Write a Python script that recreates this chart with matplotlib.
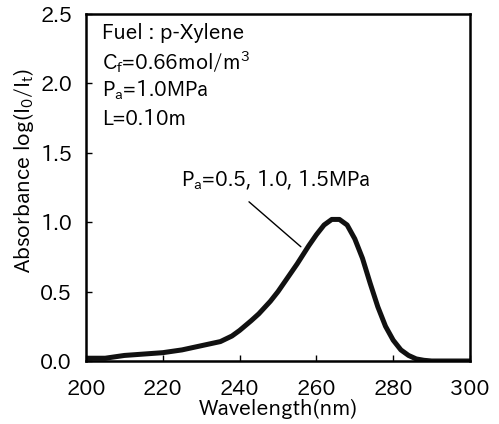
import matplotlib
matplotlib.use("Agg")
import matplotlib.pyplot as plt

FONT = 'IPAPGothic'
plt.rcParams['font.family'] = [FONT, 'DejaVu Sans']
plt.rcParams['mathtext.fontset'] = 'custom'
plt.rcParams['mathtext.rm'] = FONT
plt.rcParams['mathtext.it'] = FONT
plt.rcParams['mathtext.bf'] = FONT

wavelength = [200, 205, 210, 215, 220, 225, 230, 235, 238, 240, 243, 245, 248, 250,
              252, 255, 258, 260, 262, 264, 266, 268, 270, 272, 274, 276, 278,
              280, 282, 284, 286, 288, 290, 295, 300]
absorbance = [0.02, 0.02, 0.04, 0.05, 0.06, 0.08, 0.11, 0.14, 0.18, 0.22, 0.29, 0.34, 0.43, 0.50,
              0.58, 0.70, 0.83, 0.91, 0.98, 1.02, 1.02, 0.98, 0.88, 0.74, 0.56, 0.39, 0.25,
              0.15, 0.08, 0.04, 0.015, 0.005, 0.0, 0.0, 0.0]

xticks = [200, 220, 240, 260, 280, 300]
yticks = [0.0, 0.5, 1.0, 1.5, 2.0, 2.5]

fig = plt.figure(figsize=(4.99, 4.24), dpi=100)
ax = fig.add_axes([86/499, 63/424, 384/499, 347/424])

ax.plot(wavelength, absorbance, color='#111111', lw=3.6, solid_capstyle='round')

ax.set_xlim(200, 300)
ax.set_ylim(0, 2.5)
ax.set_xticks(xticks)
ax.set_yticks(yticks)
ax.set_xticklabels([str(v) for v in xticks])
ax.set_yticklabels([f"{v:.1f}" for v in yticks])
ax.tick_params(direction='in', length=4, width=1, labelsize=15)
ax.tick_params(axis='x', pad=13)
ax.tick_params(axis='y', pad=10)
for s in ax.spines.values():
    s.set_linewidth(1.8)

ax.set_xlabel('Wavelength(nm)', fontsize=15, labelpad=0)
ax.set_ylabel(r'Absorbance log(I$_0$/I$_t$)', fontsize=15)
ax.yaxis.set_label_coords(-0.13, 0.548)

info = ['Fuel : p-Xylene', r'C$_\mathrm{f}$=0.66mol/m$^3$', r'P$_\mathrm{a}$=1.0MPa', 'L=0.10m']
for i, t in enumerate(info):
    ax.text(0.042, 0.945 - i*0.083, t, transform=ax.transAxes, fontsize=14.5, va='center', ha='left')

ax.annotate('', xy=(256.5, 0.81), xytext=(241.9, 1.16),
            arrowprops=dict(arrowstyle='-', color='black', lw=1.0))
ax.text(249.5, 1.30, r'P$_\mathrm{a}$=0.5, 1.0, 1.5MPa', fontsize=14.5, ha='center', va='center')

fig.savefig('out.png', dpi=100)
